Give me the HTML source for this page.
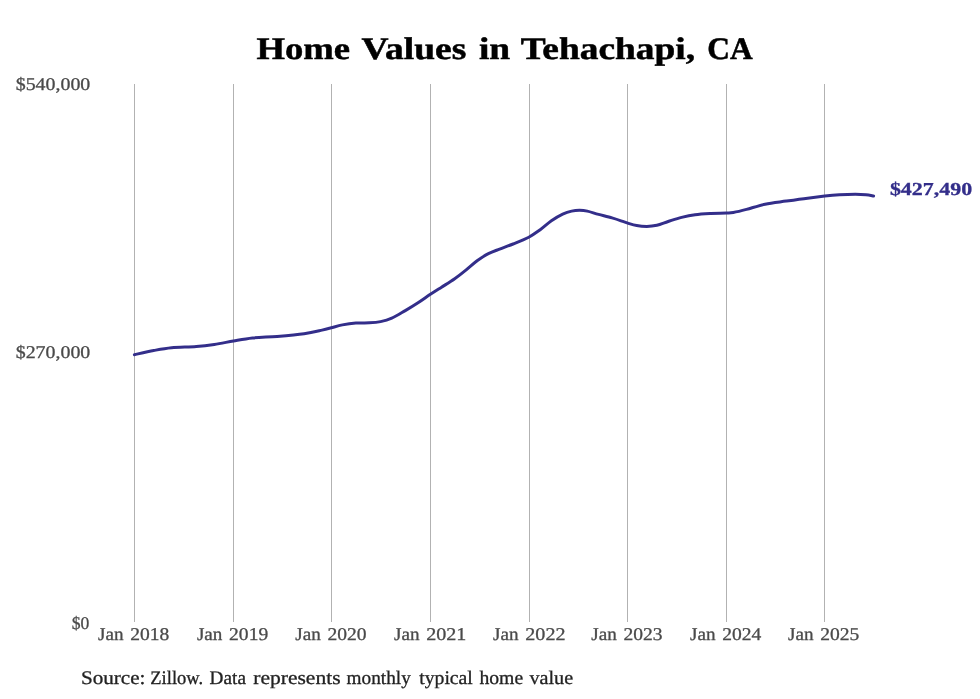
<!DOCTYPE html>
<html><head><meta charset="utf-8"><title>Home Values in Tehachapi, CA</title>
<style>
html,body{margin:0;padding:0;background:#fff;}
body{width:980px;height:699px;overflow:hidden;font-family:"Liberation Serif",serif;}
svg{display:block;will-change:transform;text-rendering:geometricPrecision;}
</style></head><body>
<svg width="980" height="699" viewBox="0 0 980 699" font-family="'Liberation Serif', serif">
<rect width="980" height="699" fill="#ffffff"/>
<g fill="#b2b2b2" shape-rendering="crispEdges">
<rect x="134" y="84" width="1" height="538"/>
<rect x="233" y="84" width="1" height="538"/>
<rect x="331" y="84" width="1" height="538"/>
<rect x="430" y="84" width="1" height="538"/>
<rect x="529" y="84" width="1" height="538"/>
<rect x="627" y="84" width="1" height="538"/>
<rect x="726" y="84" width="1" height="538"/>
<rect x="824" y="84" width="1" height="538"/>
</g>
<path transform="translate(0,0.2)" d="M134.4,354.5 C137.6,353.8 147.5,351.4 153.7,350.3 C159.9,349.2 164.5,348.3 171.6,347.6 C178.7,346.9 189.2,346.9 196.3,346.3 C203.4,345.7 208.1,345.1 214.3,344.2 C220.5,343.3 227.0,341.9 233.4,340.8 C239.8,339.7 245.2,338.6 252.5,337.8 C259.8,337.0 268.5,336.9 277.1,336.2 C285.7,335.5 296.6,334.6 304.1,333.5 C311.6,332.4 317.5,330.9 322.0,329.9 C326.5,328.9 327.8,328.5 331.2,327.6 C334.6,326.7 338.3,325.5 342.4,324.7 C346.5,323.9 351.4,323.2 355.9,322.9 C360.4,322.5 365.3,322.9 369.4,322.6 C373.5,322.4 376.9,322.2 380.6,321.4 C384.3,320.6 387.7,319.7 391.8,317.9 C395.9,316.1 400.8,313.0 405.3,310.4 C409.8,307.8 414.7,304.8 418.8,302.1 C422.9,299.4 426.3,296.9 430.0,294.4 C433.7,291.9 437.1,289.8 441.2,287.2 C445.3,284.6 450.6,281.5 454.7,278.6 C458.8,275.7 462.2,273.0 465.9,270.0 C469.6,267.0 473.4,263.4 477.1,260.6 C480.9,257.9 484.6,255.4 488.4,253.5 C492.1,251.6 495.5,250.5 499.6,248.9 C503.7,247.3 508.2,245.8 513.1,243.8 C518.0,241.8 524.3,239.4 528.8,237.0 C533.3,234.6 536.4,232.2 540.2,229.5 C544.0,226.8 547.6,223.2 551.4,220.6 C555.1,218.0 559.3,215.5 562.7,213.9 C566.1,212.3 568.8,211.5 571.6,210.9 C574.4,210.3 576.9,210.1 579.5,210.1 C582.1,210.1 584.1,210.2 587.3,210.9 C590.5,211.6 594.5,213.1 598.6,214.2 C602.7,215.3 608.3,216.6 612.0,217.7 C615.7,218.8 618.4,219.7 621.0,220.6 C623.6,221.5 625.2,222.1 627.8,222.9 C630.4,223.7 633.5,224.8 636.7,225.3 C639.9,225.9 643.4,226.2 646.8,226.2 C650.2,226.2 653.3,225.9 656.9,225.1 C660.5,224.3 664.1,222.6 668.2,221.3 C672.3,220.0 677.1,218.3 681.6,217.2 C686.1,216.1 690.2,215.2 695.1,214.5 C700.0,213.8 705.6,213.5 710.8,213.2 C716.0,212.9 722.8,213.0 726.5,212.8 C730.2,212.7 730.0,212.9 733.3,212.3 C736.6,211.7 741.2,210.6 746.5,209.2 C751.8,207.8 758.5,205.4 765.1,204.0 C771.7,202.6 779.2,201.9 786.3,200.9 C793.4,199.9 801.2,198.8 807.6,198.0 C814.0,197.2 819.5,196.5 824.8,195.9 C830.1,195.3 834.3,194.9 839.4,194.6 C844.5,194.3 850.9,194.1 855.3,194.1 C859.7,194.1 862.8,194.3 865.9,194.6 C869.0,194.9 872.3,195.6 873.6,195.8" fill="none" stroke="#332e8a" stroke-width="3" stroke-linecap="round" stroke-linejoin="round"/>
<text transform="translate(256.40,59.0) scale(1.1703,1)" font-size="31.3" fill="#000000" font-weight="bold" stroke="#000000" stroke-width="0.50">Home</text>
<text transform="translate(361.50,59.0) scale(1.1961,1)" font-size="31.3" fill="#000000" font-weight="bold" stroke="#000000" stroke-width="0.50">Values</text>
<text transform="translate(478.90,59.0) scale(1.1948,1)" font-size="31.3" fill="#000000" font-weight="bold" stroke="#000000" stroke-width="0.50">in</text>
<text transform="translate(520.80,59.0) scale(1.1945,1)" font-size="31.3" fill="#000000" font-weight="bold" stroke="#000000" stroke-width="0.50">Tehachapi,</text>
<text transform="translate(707.20,59.0) scale(1.0044,1)" font-size="31.3" fill="#000000" font-weight="bold" stroke="#000000" stroke-width="0.50">CA</text>
<text transform="translate(15.70,90.0) scale(1.1052,1)" font-size="18.0" fill="#4a4a4a" stroke="#4a4a4a" stroke-width="0.30">$540,000</text>
<text transform="translate(15.70,358.0) scale(1.1052,1)" font-size="18.0" fill="#4a4a4a" stroke="#4a4a4a" stroke-width="0.30">$270,000</text>
<text transform="translate(71.80,629.0) scale(0.9778,1)" font-size="18.0" fill="#4a4a4a" stroke="#4a4a4a" stroke-width="0.30">$0</text>
<text transform="translate(98.10,640.0) scale(1.0628,1)" font-size="18.0" fill="#4a4a4a" stroke="#4a4a4a" stroke-width="0.30">Jan</text>
<text transform="translate(130.30,640.0) scale(1.0861,1)" font-size="18.0" fill="#4a4a4a" stroke="#4a4a4a" stroke-width="0.30">2018</text>
<text transform="translate(196.90,640.0) scale(1.0628,1)" font-size="18.0" fill="#4a4a4a" stroke="#4a4a4a" stroke-width="0.30">Jan</text>
<text transform="translate(229.10,640.0) scale(1.0861,1)" font-size="18.0" fill="#4a4a4a" stroke="#4a4a4a" stroke-width="0.30">2019</text>
<text transform="translate(295.30,640.0) scale(1.0628,1)" font-size="18.0" fill="#4a4a4a" stroke="#4a4a4a" stroke-width="0.30">Jan</text>
<text transform="translate(327.50,640.0) scale(1.0861,1)" font-size="18.0" fill="#4a4a4a" stroke="#4a4a4a" stroke-width="0.30">2020</text>
<text transform="translate(394.00,640.0) scale(1.0628,1)" font-size="18.0" fill="#4a4a4a" stroke="#4a4a4a" stroke-width="0.30">Jan</text>
<text transform="translate(426.20,640.0) scale(1.1171,1)" font-size="18.0" fill="#4a4a4a" stroke="#4a4a4a" stroke-width="0.30">2021</text>
<text transform="translate(493.10,640.0) scale(1.0628,1)" font-size="18.0" fill="#4a4a4a" stroke="#4a4a4a" stroke-width="0.30">Jan</text>
<text transform="translate(525.30,640.0) scale(1.1171,1)" font-size="18.0" fill="#4a4a4a" stroke="#4a4a4a" stroke-width="0.30">2022</text>
<text transform="translate(591.20,640.0) scale(1.0628,1)" font-size="18.0" fill="#4a4a4a" stroke="#4a4a4a" stroke-width="0.30">Jan</text>
<text transform="translate(623.40,640.0) scale(1.0861,1)" font-size="18.0" fill="#4a4a4a" stroke="#4a4a4a" stroke-width="0.30">2023</text>
<text transform="translate(690.10,640.0) scale(1.0628,1)" font-size="18.0" fill="#4a4a4a" stroke="#4a4a4a" stroke-width="0.30">Jan</text>
<text transform="translate(722.30,640.0) scale(1.0861,1)" font-size="18.0" fill="#4a4a4a" stroke="#4a4a4a" stroke-width="0.30">2024</text>
<text transform="translate(788.10,640.0) scale(1.0628,1)" font-size="18.0" fill="#4a4a4a" stroke="#4a4a4a" stroke-width="0.30">Jan</text>
<text transform="translate(820.30,640.0) scale(1.0861,1)" font-size="18.0" fill="#4a4a4a" stroke="#4a4a4a" stroke-width="0.30">2025</text>
<text transform="translate(889.90,195.0) scale(1.2000,1)" font-size="18.3" fill="#332e8a" font-weight="bold" stroke="#332e8a" stroke-width="0.30">$427,490</text>
<text transform="translate(80.90,684.0) scale(1.0998,1)" font-size="19.2" fill="#222222" stroke="#222222" stroke-width="0.30">Source:</text>
<text transform="translate(150.30,684.0) scale(0.9645,1)" font-size="19.2" fill="#222222" stroke="#222222" stroke-width="0.30">Zillow.</text>
<text transform="translate(209.60,684.0) scale(1.0026,1)" font-size="19.2" fill="#222222" stroke="#222222" stroke-width="0.30">Data</text>
<text transform="translate(253.30,684.0) scale(1.1214,1)" font-size="19.2" fill="#222222" stroke="#222222" stroke-width="0.30">represents</text>
<text transform="translate(346.60,684.0) scale(1.0036,1)" font-size="19.2" fill="#222222" stroke="#222222" stroke-width="0.30">monthly</text>
<text transform="translate(419.20,684.0) scale(1.0273,1)" font-size="19.2" fill="#222222" stroke="#222222" stroke-width="0.30">typical</text>
<text transform="translate(479.40,684.0) scale(1.0258,1)" font-size="19.2" fill="#222222" stroke="#222222" stroke-width="0.30">home</text>
<text transform="translate(529.40,684.0) scale(1.0528,1)" font-size="19.2" fill="#222222" stroke="#222222" stroke-width="0.30">value</text>
</svg>
</body></html>
